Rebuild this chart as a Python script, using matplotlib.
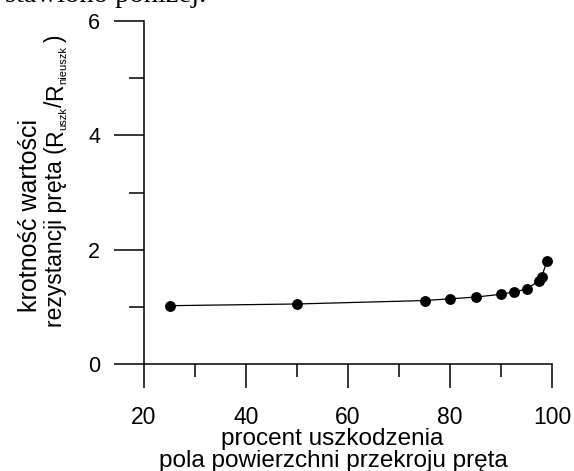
import matplotlib
matplotlib.use("Agg")
import matplotlib.pyplot as plt
from matplotlib.ticker import MultipleLocator

# data
damage_pct = [25, 50, 75, 80, 85, 90, 92.5, 95, 97.5, 98, 99]
resist_ratio = [1.02, 1.05, 1.11, 1.14, 1.17, 1.22, 1.26, 1.31, 1.46, 1.53, 1.80]
x_ticks = [20, 40, 60, 80, 100]
y_ticks = [0, 2, 4, 6]

plt.rcParams['font.family'] = ['Liberation Sans', 'DejaVu Sans']

W, H = 574, 471
fig = plt.figure(figsize=(W / 100, H / 100), dpi=100)
L, R, T, B = 144, 552, 21, 364
ax = fig.add_axes([L / W, 1 - B / H, (R - L) / W, (B - T) / H])

ax.plot(damage_pct, resist_ratio, color='black', lw=0.9, marker='o',
        ms=6.8, mfc='black', mec='black', clip_on=False)

ax.set_xlim(20, 100)
ax.set_ylim(0, 6)
ax.set_xticks(x_ticks)
ax.set_yticks(y_ticks)
ax.xaxis.set_minor_locator(MultipleLocator(10))
ax.yaxis.set_minor_locator(MultipleLocator(1))

for s in ['top', 'right']:
    ax.spines[s].set_visible(False)
for s in ['left', 'bottom']:
    ax.spines[s].set_linewidth(1.1)

ax.tick_params(axis='x', which='major', direction='out', length=17.5, width=1.1,
               pad=13, labelsize=16.5)
ax.tick_params(axis='x', which='minor', direction='out', length=9.4, width=1.1)
ax.tick_params(axis='y', which='major', direction='out', length=21.6, width=1.1,
               pad=10, labelsize=15.5)
ax.tick_params(axis='y', which='minor', direction='out', length=10.8, width=1.1)

# x axis labels
fig.text(332 / W, 1 - 439 / H, 'procent uszkodzenia', ha='center', va='center',
         fontsize=17.5)
fig.text(333 / W, 1 - 461 / H, 'pola powierzchni przekroju pręta', ha='center',
         va='center', fontsize=17.5)

# y axis label, line 1
fig.text(37 / W, 1 - 312 / H, 'krotność wartości', rotation=90,
         rotation_mode='anchor', ha='left', va='baseline', fontsize=18)

# y axis label, line 2 built from pieces (small subscripts)
renderer = fig.canvas.get_renderer()
base_x = 62
pos_y = 471 - 327  # display coords (from bottom)
pieces = [
    ('rezystancji pręta (', 16.5, 0, 0),
    ('R', 16.5, 0, 0),
    ('uszk', 8, 4, 0),
    ('/', 16.5, 0, 0),
    ('R', 16.5, 0, 0),
    ('nieuszk', 8, 4, 4),
    (')', 16.5, 0, 0),
]
for txt, fs, dx, gap in pieces:
    t = fig.text((base_x + dx) / W, pos_y / H, txt, rotation=90,
                 rotation_mode='anchor', ha='left', va='baseline', fontsize=fs)
    bb = t.get_window_extent(renderer=renderer)
    pos_y += bb.height + gap

# clipped document text at the top
fig.text(5 / W, 1 - 2 / H, 'stawiono poniżej.', ha='left', va='baseline',
         fontsize=20.5, family=['Liberation Serif', 'DejaVu Serif'])

fig.savefig('out.png', dpi=100)
